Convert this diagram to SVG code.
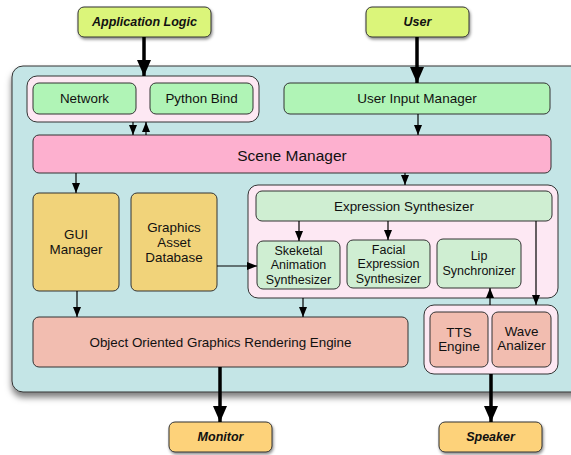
<svg xmlns="http://www.w3.org/2000/svg" width="571" height="455" viewBox="0 0 571 455">
<defs>
<filter id="sh" x="-10%" y="-10%" width="130%" height="140%">
<feDropShadow dx="1" dy="2" stdDeviation="1.5" flood-color="#000" flood-opacity="0.45"/>
</filter>
<filter id="shc" x="-5%" y="-5%" width="110%" height="115%">
<feDropShadow dx="0" dy="5" stdDeviation="3" flood-color="#000" flood-opacity="0.5"/>
</filter>
<marker id="a" viewBox="0 0 10 8" refX="10" refY="4" markerWidth="10" markerHeight="8" markerUnits="userSpaceOnUse" orient="auto">
<path d="M0,0 L10,4 L0,8 z" fill="#000"/>
</marker>
<marker id="A" viewBox="0 0 16 14" refX="16" refY="7" markerWidth="16" markerHeight="14" markerUnits="userSpaceOnUse" orient="auto">
<path d="M0,0 L16,7 L0,14 z" fill="#000"/>
</marker>
</defs>
<style>
text{font-family:"Liberation Sans",Arial,sans-serif;fill:#111;text-anchor:middle;dominant-baseline:central}
.b{stroke:#333;stroke-width:1}
.ext{font-weight:bold;font-style:italic;font-size:12.5px}
.t13{font-size:13.4px}
.t12{font-size:12.5px}
.thin{stroke:#000;stroke-width:1.2;fill:none;marker-end:url(#a)}
.thick{stroke:#000;stroke-width:3.5;fill:none;marker-end:url(#A)}
</style>
<rect width="571" height="455" fill="#fff"/>

<g id="container">
<rect x="12" y="66" width="575" height="326" rx="11" fill="#c4e5e6" class="b" filter="url(#shc)"/>
</g>

<g id="app-logic">
<rect x="78" y="7" width="133" height="30" rx="6" fill="#dbf57a" class="b" filter="url(#sh)"/>
<text x="144.5" y="22" class="ext">Application Logic</text>
</g>
<g id="user">
<rect x="366" y="7" width="103" height="30" rx="6" fill="#dbf57a" class="b" filter="url(#sh)"/>
<text x="417.5" y="22" class="ext">User</text>
</g>

<g id="io-group">
<rect x="27" y="76" width="232" height="46" rx="10" fill="#fde8f3" class="b"/>
</g>
<g id="network">
<rect x="33" y="83" width="103" height="31" rx="6" fill="#b0f4b6" class="b"/>
<text x="84.5" y="98.5" class="t13">Network</text>
</g>
<g id="python-bind">
<rect x="150" y="83" width="103" height="31" rx="6" fill="#b0f4b6" class="b"/>
<text x="201.5" y="98.5" class="t13">Python Bind</text>
</g>
<g id="user-input-manager">
<rect x="284" y="83" width="266" height="31" rx="6" fill="#b0f4b6" class="b"/>
<text x="417" y="98.5" style="font-size:13.5px">User Input Manager</text>
</g>
<g id="scene-manager">
<rect x="33" y="135" width="518" height="38" rx="6" fill="#fdb0cf" class="b"/>
<text x="292" y="155" style="font-size:15.5px">Scene Manager</text>
</g>
<g id="gui-manager">
<rect x="33" y="193" width="86" height="98" rx="6" fill="#f1d37a" class="b"/>
<text x="76" y="234" class="t13">GUI</text>
<text x="76" y="249.5" class="t13">Manager</text>
</g>
<g id="graphics-asset-db">
<rect x="131" y="193" width="86" height="98" rx="6" fill="#f1d37a" class="b"/>
<text x="174" y="227" class="t13">Graphics</text>
<text x="174" y="242" class="t13">Asset</text>
<text x="174" y="257" class="t13">Database</text>
</g>
<g id="expression-group">
<rect x="248" y="185" width="310" height="113" rx="10" fill="#fde8f3" class="b"/>
</g>
<g id="expression-synthesizer">
<rect x="256" y="191" width="296" height="30" rx="6" fill="#cfeed2" class="b"/>
<text x="404" y="206" class="t13">Expression Synthesizer</text>
</g>
<g id="skeletal">
<rect x="257" y="241" width="83" height="48" rx="6" fill="#cfeed2" class="b"/>
<text x="298.5" y="251" class="t12">Skeketal</text>
<text x="298.5" y="265" class="t12">Animation</text>
<text x="298.5" y="279.5" class="t12">Synthesizer</text>
</g>
<g id="facial">
<rect x="347" y="240" width="83" height="48" rx="6" fill="#cfeed2" class="b"/>
<text x="388.5" y="250" class="t12">Facial</text>
<text x="388.5" y="264" class="t12">Expression</text>
<text x="388.5" y="278.5" class="t12">Synthesizer</text>
</g>
<g id="lip">
<rect x="437" y="239" width="84" height="49" rx="6" fill="#cfeed2" class="b"/>
<text x="479" y="256" class="t12">Lip</text>
<text x="479" y="270.5" class="t12">Synchronizer</text>
</g>
<g id="audio-group">
<rect x="424" y="305" width="134" height="69" rx="10" fill="#fde8f3" class="b"/>
</g>
<g id="tts">
<rect x="430" y="312" width="58" height="55" rx="6" fill="#f2bdb0" class="b"/>
<text x="459" y="332" class="t13">TTS</text>
<text x="459" y="346.5" class="t13">Engine</text>
</g>
<g id="wave">
<rect x="492" y="312" width="59" height="55" rx="6" fill="#f2bdb0" class="b"/>
<text x="521.5" y="331" class="t13">Wave</text>
<text x="521.5" y="345.5" class="t13">Analizer</text>
</g>
<g id="rendering-engine">
<rect x="33" y="317" width="375" height="50" rx="6" fill="#f2bdb0" class="b"/>
<text x="220.5" y="342.5" class="t13">Object Oriented Graphics Rendering Engine</text>
</g>
<g id="monitor">
<rect x="169" y="422" width="103" height="30" rx="6" fill="#fdd27a" class="b" filter="url(#sh)"/>
<text x="220.5" y="437" class="ext">Monitor</text>
</g>
<g id="speaker">
<rect x="439" y="422" width="103" height="30" rx="6" fill="#fdd27a" class="b" filter="url(#sh)"/>
<text x="490.5" y="437" class="ext">Speaker</text>
</g>

<g id="connectors">
<path class="thick" d="M144,37 V76"/>
<path class="thick" d="M417,37 V83"/>
<path class="thin" d="M133,122 V135"/>
<path class="thin" d="M146,135 V122"/>
<path class="thin" d="M418,114 V135"/>
<path class="thin" d="M76,173 V193"/>
<path class="thin" d="M405,173 V185"/>
<path class="thin" d="M299,221 V241"/>
<path class="thin" d="M388,221 V240"/>
<path class="thin" d="M536,221 V305"/>
<path class="thin" d="M490,305 V288"/>
<path class="thin" d="M217,266 H257"/>
<path class="thin" d="M303,298 V317"/>
<path class="thin" d="M77,291 V317"/>
<path class="thick" d="M220,367 V422"/>
<path class="thick" d="M491,374 V422"/>
</g>
</svg>
